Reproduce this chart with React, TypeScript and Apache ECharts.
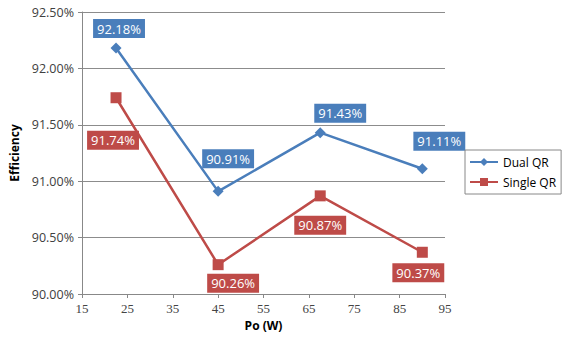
import React, { useEffect, useRef } from "react";
import * as echarts from "echarts";

const powerW = [22.5, 45, 67.5, 90];
const dualQR = [92.18, 90.91, 91.43, 91.11];
const singleQR = [91.74, 90.26, 90.87, 90.37];
const seriesNames = ["Dual QR", "Single QR"];

const dualOffsets = [[3, -4.5], [10, -17.5], [20, -4.5], [17, -12.5]];
const singleOffsets = [[-3, 27.5], [15, 3.5], [0, 14.5], [-4, 5.5]];

const BLUE = "#4A7EBB";
const RED = "#BE4B48";
const SANS = "'Open Sans', 'Noto Sans', sans-serif";

export default function App() {
  const ref = useRef<HTMLDivElement>(null);
  useEffect(() => {
    if (!ref.current) return;
    const chart = echarts.init(ref.current, undefined, { renderer: "svg" });
    const mk = (vals: number[], offs: number[][]) =>
      vals.map((v, i) => ({
        value: [powerW[i], v],
        label: { offset: offs[i] },
      }));
    const labelStyle = (pos: string, color: string) => ({
      show: true,
      position: pos,
      distance: 0,
      formatter: (p: any) => p.value[1].toFixed(2) + "%",
      color: "#fff",
      backgroundColor: color,
      padding: [3, 4, 3, 4],
      fontFamily: SANS,
      fontSize: 13,
    });
    chart.setOption({
      animation: false,
      backgroundColor: "#fff",
      grid: { left: 78, right: 119, top: 12, bottom: 58 },
      xAxis: {
        type: "value",
        min: 15,
        max: 95,
        interval: 10,
        name: "Po (W)",
        nameLocation: "middle",
        nameGap: 25,
        nameTextStyle: { fontFamily: SANS, fontWeight: "bold", fontSize: 12, color: "#000" },
        axisLine: { show: true, lineStyle: { color: "#888" } },
        axisTick: { show: true, length: 4, lineStyle: { color: "#888" } },
        axisLabel: { fontFamily: "'Liberation Serif', serif", fontSize: 13, color: "#444", margin: 8 },
        splitLine: { show: false },
      },
      yAxis: {
        type: "value",
        min: 90,
        max: 92.5,
        interval: 0.5,
        name: "Efficiency",
        nameLocation: "middle",
        nameGap: 62,
        nameTextStyle: { fontFamily: SANS, fontWeight: "bold", fontSize: 12, color: "#000" },
        axisLine: { show: true, lineStyle: { color: "#888" } },
        axisTick: { show: true, length: 4, lineStyle: { color: "#888" } },
        axisLabel: {
          formatter: (v: number) => v.toFixed(2) + "%",
          fontFamily: SANS,
          fontSize: 12.5,
          color: "#404040",
          margin: 8,
        },
        splitLine: { show: true, lineStyle: { color: "#8c8c8c" } },
      },
      legend: {
        orient: "vertical",
        left: 465,
        top: 150,
        data: seriesNames,
        borderColor: "#888",
        borderWidth: 1,
        padding: [6, 5, 6, 4],
        itemGap: 8,
        itemWidth: 28,
        itemHeight: 10,
        textStyle: { fontFamily: SANS, fontSize: 12, color: "#000" },
      },
      series: [
        {
          name: seriesNames[0],
          type: "line",
          data: mk(dualQR, dualOffsets),
          symbol: "diamond",
          symbolSize: 11,
          lineStyle: { color: BLUE, width: 2.5 },
          itemStyle: { color: BLUE },
          label: labelStyle("top", BLUE),
        },
        {
          name: seriesNames[1],
          type: "line",
          data: mk(singleQR, singleOffsets),
          symbol: "rect",
          symbolSize: 11,
          lineStyle: { color: RED, width: 2.5 },
          itemStyle: { color: RED },
          label: labelStyle("bottom", RED),
        },
      ],
    });
    return () => chart.dispose();
  }, []);
  return <div ref={ref} style={{ width: 564, height: 352, position: "absolute", left: 0, top: 0 }} />;
}
